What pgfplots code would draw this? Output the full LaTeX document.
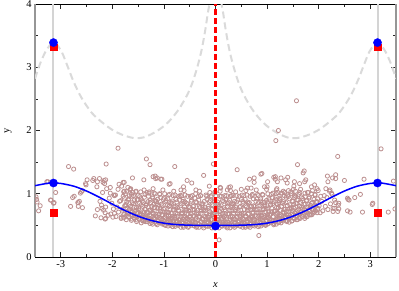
\documentclass[border=0pt]{standalone}
\usepackage{fontspec}
\setmainfont{Liberation Serif}
\usepackage{pgfplots}
\pgfplotsset{compat=1.18}
\definecolor{rosy}{RGB}{188,143,143}
\definecolor{lgray}{RGB}{212,212,212}
\definecolor{dgray}{RGB}{218,218,218}
\definecolor{spine}{RGB}{150,150,150}
\definecolor{pured}{RGB}{255,0,0}
\begin{document}
\begin{tikzpicture}
\useasboundingbox (-35bp,-34bp) rectangle (364bp,257bp);
\begin{axis}[
  at={(0,0)}, anchor=south west,
  scale only axis, width=361bp, height=253bp,
  xmin=-3.5, xmax=3.5, ymin=0, ymax=4,
  clip marker paths=true,
  xtick={-3,-2,-1,0,1,2,3}, xticklabels={-3,-2,-1,0,1,2,3},
  ytick={0,1,2,3,4}, yticklabels={0,1,2,3,4},
  minor xtick={-3.5,-2.5,-1.5,-0.5,0.5,1.5,2.5,3.5},
  minor ytick={0.5,1.5,2.5,3.5},
  tick align=inside, major tick length=5bp, minor tick length=3bp,
  tick style={black!85, line width=0.6bp},
  separate axis lines,
  x axis line style={black, line width=0.8bp},
  y axis line style={spine, line width=2bp},
  tick label style={font=\fontsize{10.5}{12}\selectfont},
  every axis x label/.style={at={(axis description cs:0.5,0)}, yshift=-28bp, anchor=center},
  every axis y label/.style={at={(axis description cs:0,0.5)}, xshift=-27bp, rotate=90, anchor=center},
  xlabel={\fontsize{10.5}{12}\selectfont\textit{x}},
  ylabel={\fontsize{10.5}{12}\selectfont y},
]
% vertical reference lines
\addplot[lgray, line width=2bp, forget plot] coordinates {(-3.14159,0) (-3.14159,4)};
\addplot[lgray, line width=2bp, forget plot] coordinates {(3.14159,0) (3.14159,4)};
% gray dashed curve (left and right branches)
\addplot[dgray, line width=2bp, dash pattern=on 7bp off 4bp, smooth] coordinates {
(-3.5,2.82) (-3.4,3.06) (-3.3,3.24) (-3.2,3.36) (-3.1416,3.39) (-3.08,3.36) (-2.98,3.24)
(-2.88,3.04) (-2.75,2.77) (-2.6,2.52) (-2.4,2.28) (-2.2,2.13) (-2.0,2.01) (-1.8,1.93)
(-1.58,1.88) (-1.4,1.89) (-1.2,1.96) (-1.0,2.07) (-0.85,2.19) (-0.7,2.35) (-0.55,2.56)
(-0.45,2.75) (-0.35,3.01) (-0.27,3.27) (-0.2,3.58) (-0.15,3.85) (-0.11,4.05) (-0.08,4.4)};
\addplot[dgray, line width=2bp, dash pattern=on 7bp off 4bp, smooth] coordinates {
(0.08,4.4) (0.11,4.05) (0.15,3.85) (0.2,3.58) (0.27,3.27) (0.35,3.01) (0.45,2.75)
(0.55,2.56) (0.7,2.35) (0.85,2.19) (1.0,2.07) (1.2,1.96) (1.4,1.89) (1.58,1.88)
(1.8,1.93) (2.0,2.01) (2.2,2.13) (2.4,2.28) (2.6,2.52) (2.75,2.77) (2.88,3.04)
(2.98,3.24) (3.08,3.36) (3.1416,3.39) (3.2,3.36) (3.3,3.24) (3.4,3.06) (3.5,2.82)};
% scatter
\addplot[only marks, mark=o, mark size=2.1bp, mark options={draw=rosy, line width=0.8bp}] coordinates {
(-2.22,0.62) (-2.17,0.74) (-2.24,0.88) (-2.19,1.02) (-2.15,1.16)
(-2.08,0.66) (-2.13,0.79) (-2.06,0.93) (-2.11,1.08) (-2.14,0.70)
(-2.03,0.68) (-1.98,0.76) (-2.01,0.85) (-1.96,0.97) (-2.04,1.10) (-1.99,0.63)
(-1.93,0.64) (-1.88,0.71) (-1.91,0.79) (-1.86,0.88) (-1.94,0.98) (-1.89,1.07) (-1.87,1.15)
(-1.83,0.61) (-1.78,0.67) (-1.81,0.74) (-1.76,0.81) (-1.84,0.89) (-1.79,0.96) (-1.77,1.04) (-1.82,1.12)
(-1.73,0.59) (-1.68,0.64) (-1.71,0.70) (-1.66,0.76) (-1.74,0.83) (-1.69,0.90) (-1.67,0.97) (-1.72,1.04) (-1.70,1.10)
(-1.63,0.58) (-1.58,0.62) (-1.61,0.67) (-1.56,0.72) (-1.64,0.78) (-1.59,0.84) (-1.57,0.90) (-1.62,0.96) (-1.60,1.02) (-1.645,1.08)
(-1.53,0.56) (-1.48,0.60) (-1.51,0.64) (-1.46,0.69) (-1.54,0.74) (-1.49,0.79) (-1.47,0.85) (-1.52,0.91) (-1.50,0.97) (-1.545,1.03) (-1.465,0.66)
(-1.44,0.54) (-1.39,0.57) (-1.42,0.60) (-1.37,0.63) (-1.43,0.67) (-1.38,0.71) (-1.36,0.75) (-1.41,0.80) (-1.40,0.86) (-1.445,0.92) (-1.365,0.99) (-1.385,1.06)
(-1.27,0.53) (-1.32,0.56) (-1.29,0.59) (-1.34,0.62) (-1.28,0.66) (-1.33,0.70) (-1.26,0.74) (-1.31,0.79) (-1.335,0.84) (-1.265,0.90) (-1.30,0.96) (-1.285,1.03)
(-1.22,0.52) (-1.17,0.55) (-1.24,0.58) (-1.19,0.61) (-1.16,0.65) (-1.21,0.69) (-1.235,0.73) (-1.18,0.78) (-1.20,0.83) (-1.165,0.89) (-1.225,0.95) (-1.19,1.01) (-1.21,1.08)
(-1.13,0.51) (-1.08,0.54) (-1.11,0.57) (-1.06,0.60) (-1.14,0.64) (-1.09,0.68) (-1.07,0.72) (-1.12,0.77) (-1.10,0.82) (-1.145,0.88) (-1.065,0.94) (-1.085,1.00)
(-0.97,0.50) (-1.02,0.53) (-0.99,0.56) (-1.04,0.59) (-0.98,0.63) (-1.03,0.67) (-0.96,0.71) (-1.01,0.76) (-1.035,0.81) (-0.965,0.87) (-1.00,0.93) (-0.985,1.00) (-1.02,1.06)
(-0.92,0.49) (-0.87,0.52) (-0.94,0.55) (-0.89,0.58) (-0.86,0.62) (-0.91,0.66) (-0.935,0.70) (-0.88,0.75) (-0.90,0.80) (-0.865,0.86) (-0.925,0.92) (-0.89,0.99)
(-0.83,0.48) (-0.78,0.51) (-0.81,0.54) (-0.76,0.57) (-0.84,0.61) (-0.79,0.65) (-0.77,0.69) (-0.82,0.74) (-0.80,0.79) (-0.845,0.85) (-0.765,0.91) (-0.785,0.98) (-0.81,1.04)
(-0.67,0.47) (-0.72,0.50) (-0.69,0.53) (-0.74,0.56) (-0.68,0.60) (-0.73,0.64) (-0.66,0.68) (-0.71,0.73) (-0.735,0.78) (-0.665,0.84) (-0.70,0.90) (-0.685,0.97)
(-0.62,0.47) (-0.57,0.50) (-0.64,0.53) (-0.59,0.57) (-0.56,0.61) (-0.61,0.65) (-0.635,0.69) (-0.58,0.74) (-0.60,0.79) (-0.565,0.85) (-0.625,0.91) (-0.59,0.98) (-0.61,1.05)
(-0.53,0.47) (-0.48,0.50) (-0.51,0.53) (-0.46,0.56) (-0.54,0.60) (-0.49,0.64) (-0.47,0.68) (-0.52,0.73) (-0.50,0.78) (-0.545,0.84) (-0.465,0.90) (-0.485,0.96)
(-0.37,0.47) (-0.42,0.50) (-0.39,0.54) (-0.44,0.57) (-0.38,0.61) (-0.43,0.65) (-0.36,0.70) (-0.41,0.75) (-0.435,0.80) (-0.365,0.86) (-0.40,0.93) (-0.385,1.00)
(-0.32,0.47) (-0.27,0.50) (-0.34,0.53) (-0.29,0.56) (-0.26,0.60) (-0.31,0.64) (-0.335,0.68) (-0.28,0.73) (-0.30,0.78) (-0.265,0.84) (-0.325,0.90) (-0.29,0.97) (-0.31,1.04)
(-0.23,0.46) (-0.18,0.49) (-0.21,0.52) (-0.16,0.56) (-0.24,0.60) (-0.19,0.64) (-0.17,0.68) (-0.22,0.73) (-0.20,0.78) (-0.245,0.84) (-0.165,0.91) (-0.185,0.98)
(-0.07,0.46) (-0.12,0.49) (-0.09,0.52) (-0.14,0.55) (-0.08,0.59) (-0.13,0.63) (-0.06,0.67) (-0.11,0.72) (-0.135,0.77) (-0.065,0.83) (-0.10,0.89) (-0.085,0.95) (-0.11,1.02)
(-0.02,0.46) (0.03,0.49) (-0.04,0.52) (0.01,0.55) (0.04,0.59) (-0.01,0.63) (-0.035,0.67) (0.02,0.72) (0.00,0.77) (0.035,0.83) (-0.025,0.89) (0.01,0.96) (-0.01,1.03)
(0.07,0.46) (0.12,0.49) (0.09,0.52) (0.14,0.55) (0.06,0.59) (0.11,0.63) (0.13,0.67) (0.08,0.72) (0.10,0.77) (0.055,0.83) (0.135,0.89) (0.115,0.96) (0.09,1.04)
(0.23,0.46) (0.18,0.49) (0.21,0.52) (0.16,0.56) (0.22,0.60) (0.17,0.64) (0.24,0.68) (0.19,0.73) (0.165,0.78) (0.235,0.84) (0.20,0.90) (0.215,0.97)
(0.28,0.46) (0.33,0.49) (0.26,0.52) (0.31,0.56) (0.34,0.60) (0.29,0.64) (0.265,0.68) (0.32,0.73) (0.30,0.78) (0.335,0.84) (0.275,0.90) (0.31,0.97) (0.29,1.05)
(0.37,0.47) (0.42,0.50) (0.39,0.53) (0.44,0.56) (0.36,0.60) (0.41,0.64) (0.43,0.68) (0.38,0.73) (0.40,0.78) (0.355,0.84) (0.435,0.90) (0.415,0.97) (0.39,1.03)
(0.53,0.47) (0.48,0.50) (0.51,0.53) (0.46,0.57) (0.52,0.61) (0.47,0.65) (0.54,0.69) (0.49,0.74) (0.465,0.79) (0.535,0.85) (0.50,0.91) (0.515,0.98)
(0.58,0.47) (0.63,0.50) (0.56,0.53) (0.61,0.57) (0.64,0.61) (0.59,0.65) (0.565,0.69) (0.62,0.74) (0.60,0.79) (0.635,0.85) (0.575,0.91) (0.61,0.98) (0.59,1.05)
(0.67,0.47) (0.72,0.50) (0.69,0.54) (0.74,0.57) (0.66,0.61) (0.71,0.65) (0.73,0.70) (0.68,0.75) (0.70,0.80) (0.655,0.86) (0.735,0.92) (0.715,0.99)
(0.83,0.48) (0.78,0.51) (0.81,0.54) (0.76,0.58) (0.82,0.62) (0.77,0.66) (0.84,0.70) (0.79,0.75) (0.765,0.80) (0.835,0.86) (0.80,0.92) (0.815,0.99) (0.79,1.06)
(0.88,0.49) (0.93,0.52) (0.86,0.55) (0.91,0.58) (0.94,0.62) (0.89,0.66) (0.865,0.70) (0.92,0.75) (0.90,0.80) (0.935,0.86) (0.875,0.92) (0.91,0.99)
(0.97,0.50) (1.02,0.53) (0.99,0.56) (1.04,0.59) (0.96,0.63) (1.01,0.67) (1.03,0.71) (0.98,0.76) (1.00,0.81) (0.955,0.87) (1.035,0.93) (1.015,1.00) (0.99,1.07)
(1.13,0.51) (1.08,0.54) (1.11,0.57) (1.06,0.60) (1.12,0.64) (1.07,0.68) (1.14,0.72) (1.09,0.77) (1.065,0.82) (1.135,0.88) (1.10,0.94) (1.115,1.01)
(1.18,0.52) (1.23,0.55) (1.16,0.58) (1.21,0.61) (1.24,0.65) (1.19,0.69) (1.165,0.73) (1.22,0.78) (1.20,0.83) (1.235,0.89) (1.175,0.95) (1.21,1.02) (1.19,1.08)
(1.27,0.54) (1.32,0.57) (1.29,0.60) (1.34,0.63) (1.26,0.67) (1.31,0.71) (1.33,0.75) (1.28,0.80) (1.30,0.85) (1.255,0.91) (1.335,0.97) (1.315,1.04)
(1.43,0.55) (1.38,0.58) (1.41,0.61) (1.36,0.64) (1.42,0.68) (1.37,0.72) (1.44,0.76) (1.39,0.81) (1.365,0.86) (1.435,0.92) (1.40,0.98) (1.415,1.05)
(1.48,0.57) (1.53,0.60) (1.46,0.63) (1.51,0.66) (1.54,0.70) (1.49,0.74) (1.465,0.78) (1.52,0.83) (1.50,0.88) (1.535,0.94) (1.475,1.00) (1.51,1.07)
(1.57,0.59) (1.62,0.62) (1.59,0.65) (1.64,0.68) (1.56,0.72) (1.61,0.76) (1.63,0.80) (1.58,0.85) (1.60,0.90) (1.555,0.96) (1.635,1.02)
(1.73,0.61) (1.68,0.64) (1.71,0.67) (1.66,0.71) (1.72,0.75) (1.67,0.79) (1.74,0.84) (1.69,0.89) (1.665,0.95) (1.735,1.01)
(1.78,0.64) (1.83,0.67) (1.76,0.71) (1.81,0.75) (1.84,0.79) (1.79,0.84) (1.765,0.89) (1.82,0.95) (1.80,1.02)
(1.87,0.67) (1.92,0.71) (1.89,0.75) (1.94,0.80) (1.86,0.85) (1.91,0.91) (1.93,0.98) (1.88,1.05)
(2.03,0.70) (1.98,0.75) (2.01,0.81) (1.96,0.88) (2.04,0.96) (1.99,1.05)
(2.08,0.73) (2.13,0.80) (2.06,0.88) (2.11,0.97) (2.14,1.08)
(2.18,0.75) (2.23,0.84) (2.16,0.94) (2.21,1.04)
(2.28,0.72) (2.33,0.86) (2.26,0.99)
(-1.78,0.62) (-1.73,0.65) (-1.76,0.68) (-1.715,0.72) (-1.79,0.76) (-1.74,0.81) (-1.72,0.87) (-1.77,0.93) (-1.75,1.00)
(-1.615,0.60) (-1.69,0.63) (-1.64,0.67) (-1.62,0.71) (-1.67,0.75) (-1.65,0.80) (-1.61,0.86) (-1.68,0.92) (-1.63,0.99) (-1.66,1.06)
(-1.52,0.585) (-1.57,0.615) (-1.55,0.65) (-1.51,0.69) (-1.58,0.73) (-1.53,0.78) (-1.56,0.84) (-1.515,0.90) (-1.59,0.97) (-1.54,1.04)
(-1.41,0.57) (-1.48,0.60) (-1.43,0.635) (-1.46,0.675) (-1.415,0.715) (-1.49,0.765) (-1.44,0.825) (-1.42,0.885) (-1.47,0.955) (-1.45,1.03)
(-1.36,0.56) (-1.315,0.59) (-1.39,0.625) (-1.34,0.665) (-1.32,0.705) (-1.37,0.755) (-1.35,0.815) (-1.31,0.875) (-1.38,0.945) (-1.33,1.02)
(-1.24,0.545) (-1.22,0.575) (-1.27,0.61) (-1.25,0.65) (-1.21,0.69) (-1.28,0.74) (-1.23,0.80) (-1.26,0.86) (-1.215,0.93) (-1.29,1.01)
(-1.15,0.53) (-1.11,0.56) (-1.18,0.595) (-1.13,0.635) (-1.16,0.675) (-1.115,0.725) (-1.19,0.785) (-1.14,0.845) (-1.12,0.915) (-1.17,1.00)
(-1.03,0.52) (-1.06,0.55) (-1.015,0.585) (-1.09,0.625) (-1.04,0.665) (-1.02,0.715) (-1.07,0.775) (-1.05,0.835) (-1.01,0.905) (-1.08,0.99)
(-0.99,0.51) (-0.94,0.54) (-0.92,0.575) (-0.97,0.615) (-0.95,0.655) (-0.91,0.705) (-0.98,0.765) (-0.93,0.825) (-0.96,0.895) (-0.915,0.98)
(-0.87,0.50) (-0.85,0.53) (-0.81,0.565) (-0.88,0.605) (-0.83,0.645) (-0.86,0.695) (-0.815,0.755) (-0.89,0.815) (-0.84,0.885) (-0.82,0.97)
(-0.78,0.485) (-0.73,0.515) (-0.76,0.55) (-0.715,0.59) (-0.79,0.63) (-0.74,0.68) (-0.72,0.74) (-0.77,0.80) (-0.75,0.87) (-0.71,0.96)
(-0.615,0.49) (-0.69,0.52) (-0.64,0.555) (-0.62,0.595) (-0.67,0.64) (-0.65,0.69) (-0.61,0.75) (-0.68,0.81) (-0.63,0.88) (-0.66,0.97)
(-0.52,0.485) (-0.57,0.515) (-0.55,0.55) (-0.51,0.59) (-0.58,0.63) (-0.53,0.68) (-0.56,0.74) (-0.515,0.80) (-0.59,0.87) (-0.54,0.96)
(-0.41,0.49) (-0.48,0.52) (-0.43,0.555) (-0.46,0.595) (-0.415,0.64) (-0.49,0.69) (-0.44,0.75) (-0.42,0.81) (-0.47,0.88) (-0.45,0.97)
(-0.36,0.485) (-0.315,0.515) (-0.39,0.55) (-0.34,0.59) (-0.32,0.63) (-0.37,0.68) (-0.35,0.74) (-0.31,0.80) (-0.38,0.87) (-0.33,0.96)
(-0.24,0.49) (-0.22,0.52) (-0.27,0.555) (-0.25,0.595) (-0.21,0.64) (-0.28,0.69) (-0.23,0.75) (-0.26,0.81) (-0.215,0.88) (-0.29,0.97)
(-0.15,0.485) (-0.11,0.515) (-0.18,0.55) (-0.13,0.59) (-0.16,0.63) (-0.115,0.68) (-0.19,0.74) (-0.14,0.80) (-0.12,0.87) (-0.17,0.96)
(-0.03,0.49) (-0.06,0.52) (-0.015,0.555) (-0.09,0.595) (-0.04,0.64) (-0.02,0.69) (-0.07,0.75) (-0.05,0.81) (-0.01,0.88) (-0.08,0.97)
(0.01,0.485) (0.06,0.515) (0.08,0.55) (0.03,0.59) (0.05,0.63) (0.09,0.68) (0.02,0.74) (0.07,0.80) (0.04,0.87) (0.085,0.96)
(0.13,0.49) (0.15,0.52) (0.19,0.555) (0.12,0.595) (0.17,0.64) (0.14,0.69) (0.185,0.75) (0.11,0.81) (0.16,0.88) (0.18,0.97)
(0.22,0.485) (0.27,0.515) (0.24,0.55) (0.285,0.59) (0.21,0.63) (0.26,0.68) (0.28,0.74) (0.23,0.80) (0.25,0.87) (0.29,0.96)
(0.385,0.49) (0.31,0.52) (0.36,0.555) (0.38,0.595) (0.33,0.64) (0.35,0.69) (0.39,0.75) (0.32,0.81) (0.37,0.88) (0.34,0.97)
(0.48,0.485) (0.43,0.515) (0.45,0.55) (0.49,0.59) (0.42,0.63) (0.47,0.68) (0.44,0.74) (0.485,0.80) (0.41,0.87) (0.46,0.96)
(0.59,0.49) (0.52,0.52) (0.57,0.555) (0.54,0.595) (0.585,0.64) (0.51,0.69) (0.56,0.75) (0.58,0.81) (0.53,0.88) (0.55,0.97)
(0.64,0.485) (0.685,0.515) (0.61,0.55) (0.66,0.59) (0.68,0.63) (0.63,0.68) (0.65,0.74) (0.69,0.80) (0.62,0.87) (0.67,0.96)
(0.76,0.49) (0.78,0.52) (0.73,0.555) (0.75,0.595) (0.79,0.64) (0.72,0.69) (0.77,0.75) (0.74,0.81) (0.785,0.88) (0.71,0.97)
(0.85,0.50) (0.89,0.53) (0.82,0.565) (0.87,0.605) (0.84,0.645) (0.885,0.695) (0.81,0.755) (0.86,0.815) (0.88,0.885) (0.83,0.97)
(0.97,0.51) (0.94,0.54) (0.985,0.575) (0.91,0.615) (0.96,0.655) (0.98,0.705) (0.93,0.765) (0.95,0.825) (0.99,0.895) (0.92,0.98)
(1.01,0.52) (1.06,0.55) (1.08,0.585) (1.03,0.625) (1.05,0.665) (1.09,0.715) (1.02,0.775) (1.07,0.835) (1.04,0.905) (1.085,0.99)
(1.13,0.53) (1.15,0.56) (1.19,0.595) (1.12,0.635) (1.17,0.675) (1.14,0.725) (1.185,0.785) (1.11,0.845) (1.16,0.915) (1.18,1.00)
(1.22,0.545) (1.27,0.575) (1.24,0.61) (1.285,0.65) (1.21,0.69) (1.26,0.74) (1.28,0.80) (1.23,0.86) (1.25,0.93) (1.29,1.01)
(1.385,0.56) (1.31,0.59) (1.36,0.625) (1.38,0.665) (1.33,0.705) (1.35,0.755) (1.39,0.815) (1.32,0.875) (1.37,0.945) (1.34,1.02)
(1.48,0.57) (1.43,0.60) (1.45,0.635) (1.49,0.675) (1.42,0.715) (1.47,0.765) (1.44,0.825) (1.485,0.885) (1.41,0.955) (1.46,1.03)
(1.59,0.59) (1.52,0.62) (1.57,0.655) (1.54,0.695) (1.585,0.735) (1.51,0.785) (1.56,0.845) (1.58,0.905) (1.53,0.975) (1.55,1.04)
(1.64,0.61) (1.685,0.64) (1.61,0.675) (1.66,0.715) (1.68,0.755) (1.63,0.805) (1.65,0.865) (1.69,0.925) (1.62,0.99)
(1.76,0.635) (1.78,0.665) (1.73,0.70) (1.75,0.74) (1.79,0.78) (1.72,0.83) (1.77,0.89) (1.74,0.95) (1.785,1.02)
(1.85,0.665) (1.89,0.695) (1.82,0.73) (1.87,0.77) (1.84,0.815) (1.885,0.865) (1.81,0.93) (1.86,1.00)
(1.97,0.70) (1.94,0.73) (1.985,0.77) (1.91,0.81) (1.96,0.86) (1.98,0.92) (1.93,0.99)
(-3.47,0.91) (-3.46,0.87) (-3.40,0.81) (-3.43,0.73) (-3.48,0.95)
(-3.27,1.19) (-3.20,0.90) (-3.13,0.86) (-3.10,1.02)
(-2.85,1.43) (-2.75,1.39) (-2.81,0.80) (-2.77,0.94) (-2.74,0.96) (-2.66,0.86) (-2.64,0.88)
(-2.62,1.01) (-2.58,1.05) (-2.58,0.78) (-2.51,1.14) (-2.36,1.24) (-2.29,1.19) (-2.33,0.65)
(-2.14,0.60) (-2.18,1.18) (-2.16,1.21) (-2.12,1.47) (-1.89,1.72) (-1.79,1.18) (-1.61,1.25)
(-1.34,1.55) (-1.27,1.46) (-1.13,1.25) (-1.16,1.24) (-1.06,1.23) (-0.79,1.43) (-0.23,1.29)
(-1.39,1.22) (-0.88,1.16) (-0.55,1.21) (-0.38,1.06) (-0.12,1.12) (-0.9,1.15) (-0.67,1.06)
(-1.78,1.03) (-1.65,1.07) (-2.04,1.01) (-1.97,0.98) (-2.20,0.77) (-1.96,0.69) (-1.83,0.63)
(-2.30,1.11) (-1.77,1.18) (-1.21,1.27) (-1.17,1.28) (-1.04,1.23) (-0.62,1.11) (-0.46,1.17)
(-0.01,1.02) (0.09,1.10) (0.23,1.06) (0.29,1.11) (0.66,1.23) (0.75,1.18) (-0.04,1.47)
(-2.67,0.86) (-2.66,0.80) (-2.60,1.03) (-2.52,1.16) (-2.25,1.24) (-2.13,1.22) (-2.38,1.21)
(-2.13,0.61) (-2.29,0.75) (-2.21,0.82) (-2.49,1.22) (-3.25,1.19) (-3.19,0.90) (-3.14,0.85)
(0.07,0.27) (0.84,0.34) (0.42,1.38) (1.57,2.47) (1.22,2.00) (1.17,1.84) (2.37,1.59)
(1.59,1.46) (1.72,1.36) (3.21,1.71) (2.85,0.71) (3.35,0.71) (3.04,0.83) (2.57,0.91)
(2.81,0.99) (2.70,0.94) (2.88,1.23) (2.50,1.21) (2.33,1.24) (2.61,0.71) (2.39,0.76)
(3.45,1.20) (2.59,0.90) (2.56,0.73) (2.37,0.72) (2.31,0.77) (2.38,0.82) (3.48,0.76)
(0.88,1.31) (1.13,1.26) (1.16,1.23) (1.27,1.25) (1.40,1.26) (1.53,1.19) (1.63,1.16)
(1.73,1.19) (1.86,1.11) (1.92,1.14) (1.97,1.08) (2.17,1.28) (2.18,1.19) (2.22,1.06)
(2.25,1.01) (2.31,0.90) (2.39,0.85) (2.28,0.77) (0.62,1.09) (0.69,1.09) (0.50,1.07)
(0.26,1.10) (0.10,1.09) (0.90,1.32) (0.75,1.25) (1.01,1.19) (0.95,1.11) (1.18,1.06)
(1.27,1.01) (1.00,1.11) (1.16,1.27) (1.20,1.19) (1.36,1.22) (1.39,1.17) (1.52,1.12)
(1.65,1.07) (1.75,1.22) (1.70,1.33) (2.56,0.93) (2.33,1.30) (2.27,1.25) (3.05,0.85)
};
% blue curve
\addplot[blue, line width=1.5bp, smooth] coordinates {
(-3.5,1.128) (-3.25,1.166) (-3.1416,1.17) (-3.0,1.163) (-2.75,1.120) (-2.5,1.043) (-2.25,0.944)
(-2.0,0.836) (-1.75,0.733) (-1.5,0.645) (-1.25,0.579) (-1.0,0.535) (-0.75,0.512) (-0.5,0.503)
(-0.25,0.500) (0,0.500) (0.25,0.500) (0.5,0.503) (0.75,0.512) (1.0,0.535) (1.25,0.579)
(1.5,0.645) (1.75,0.733) (2.0,0.836) (2.25,0.944) (2.5,1.043) (2.75,1.120) (3.0,1.163)
(3.1416,1.17) (3.25,1.166) (3.5,1.128)};
% red dashed vertical line at x = 0
\addplot[forget plot, draw=pured, line width=2.2bp, dash pattern=on 6pt off 3pt] coordinates {(0.0001,0) (0.0001,4)};
% markers
\addplot[only marks, mark=square*, mark size=3.3bp, draw=pured, fill=pured] coordinates {
(-3.1416,3.32) (3.1416,3.32) (-3.1416,0.70) (3.1416,0.70)};
\addplot[only marks, mark=*, mark size=4.1bp, blue] coordinates {
(-3.1416,3.39) (3.1416,3.39) (-3.1416,1.17) (3.1416,1.17) (0,0.49)};
\end{axis}
\end{tikzpicture}
\end{document}
